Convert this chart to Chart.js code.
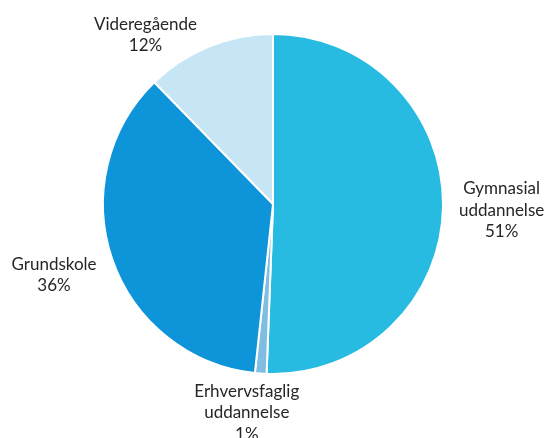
<!DOCTYPE html>
<html>
<head>
<meta charset="utf-8">
<script src="https://cdn.jsdelivr.net/npm/chart.js@4.4.1/dist/chart.umd.min.js"></script>
<style>
  html, body { margin: 0; padding: 0; background: #ffffff; }
  #wrap { width: 548px; height: 438px; position: relative; }
</style>
</head>
<body>
<div id="wrap"><canvas id="chart" width="548" height="438"></canvas></div>
<script>
// Education level distribution
const categories = ['Gymnasial uddannelse', 'Erhvervsfaglig uddannelse', 'Grundskole', 'Videregående'];
const shares = [50.6, 1.1, 36.0, 12.3];
const sliceColors = ['#27bbe1', '#7fbde2', '#0e95d9', '#c6e6f6'];

// Per-label nudges (px) applied after the outside-end placement
const labelNudge = [[0, 2], [-9, -9], [-3, 3], [-38, 23]];

const FONT = '17px Lato, "Open Sans", sans-serif';
const LINE_H = 21.5;

const outsideLabels = {
  id: 'outsideLabels',
  afterDatasetsDraw(chart) {
    const ctx = chart.ctx;
    const meta = chart.getDatasetMeta(0);
    const values = chart.data.datasets[0].data;
    const total = values.reduce((a, b) => a + b, 0);
    ctx.save();
    ctx.font = FONT;
    ctx.fillStyle = '#262626';
    ctx.textAlign = 'center';
    ctx.textBaseline = 'middle';
    meta.data.forEach((arc, i) => {
      const p = arc.getProps(['x', 'y', 'startAngle', 'endAngle', 'outerRadius'], true);
      const mid = (p.startAngle + p.endAngle) / 2;
      const dx = Math.cos(mid), dy = Math.sin(mid);
      const lines = chart.data.labels[i].split(' ');
      lines.push(Math.round(values[i] / total * 100) + '%');
      const w = Math.max(...lines.map(t => ctx.measureText(t).width));
      const h = lines.length * LINE_H;
      const r = p.outerRadius + 16;
      const cx = p.x + dx * r + dx * w / 2 + labelNudge[i][0];
      const cy = p.y + dy * r + dy * h / 2 + labelNudge[i][1];
      lines.forEach((t, k) => {
        ctx.fillText(t, cx, cy - h / 2 + LINE_H * (k + 0.5));
      });
    });
    ctx.restore();
  }
};

new Chart(document.getElementById('chart'), {
  type: 'pie',
  data: {
    labels: categories,
    datasets: [{
      data: shares,
      backgroundColor: sliceColors,
      borderColor: '#ffffff',
      borderWidth: 2
    }]
  },
  options: {
    responsive: false,
    animation: false,
    layout: { padding: { top: 33, bottom: 63, left: 102, right: 104 } },
    plugins: { legend: { display: false }, tooltip: { enabled: false } }
  },
  plugins: [outsideLabels]
});
</script>
</body>
</html>
